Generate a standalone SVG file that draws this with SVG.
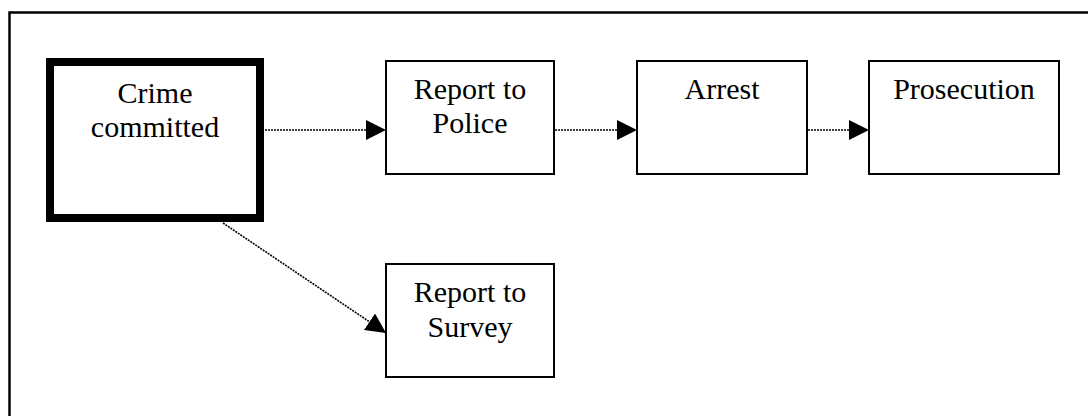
<svg xmlns="http://www.w3.org/2000/svg" width="1088" height="416" viewBox="0 0 1088 416">
  <style>
    .box { fill: #fff; stroke: #000; stroke-width: 2; }
    .thick { fill: #fff; stroke: #000; stroke-width: 8; }
    .lbl { font-family: "Liberation Serif", "Times New Roman", serif; font-size: 30px; fill: #000; text-anchor: middle; }
    .conn { stroke: #000; stroke-width: 1.6; stroke-dasharray: 2 1; fill: none; }
    .frame { stroke: #000; stroke-width: 2.5; fill: none; }
  </style>
  <defs>
    <marker id="arr" markerUnits="userSpaceOnUse" markerWidth="20" markerHeight="20" refX="20" refY="10" orient="auto">
      <path d="M0,0 L20,10 L0,20 z" fill="#000"/>
    </marker>
  </defs>
  <rect width="1088" height="416" fill="#fff"/>
  <path class="frame" d="M9.5,416 L9.5,12.5 L1088,12.5"/>

  <g id="connectors">
    <line class="conn" x1="265" y1="130" x2="386" y2="130" marker-end="url(#arr)"/>
    <line class="conn" x1="555" y1="130" x2="637" y2="130" marker-end="url(#arr)"/>
    <line class="conn" x1="808" y1="130" x2="869" y2="130" marker-end="url(#arr)"/>
    <line class="conn" x1="223" y1="223" x2="386" y2="333" marker-end="url(#arr)"/>
  </g>

  <g id="crime">
    <rect class="thick" x="50" y="62" width="210" height="156"/>
    <text class="lbl" x="155" y="103">Crime</text>
    <text class="lbl" x="155" y="137">committed</text>
  </g>
  <g id="police">
    <rect class="box" x="386" y="61" width="168" height="113"/>
    <text class="lbl" x="470" y="99">Report to</text>
    <text class="lbl" x="470" y="133">Police</text>
  </g>
  <g id="arrest">
    <rect class="box" x="637" y="61" width="170" height="113"/>
    <text class="lbl" x="722" y="99">Arrest</text>
  </g>
  <g id="prosecution">
    <rect class="box" x="869" y="61" width="190" height="113"/>
    <text class="lbl" x="964" y="99">Prosecution</text>
  </g>
  <g id="survey">
    <rect class="box" x="386" y="264" width="168" height="113"/>
    <text class="lbl" x="470" y="302">Report to</text>
    <text class="lbl" x="470" y="337">Survey</text>
  </g>
</svg>
